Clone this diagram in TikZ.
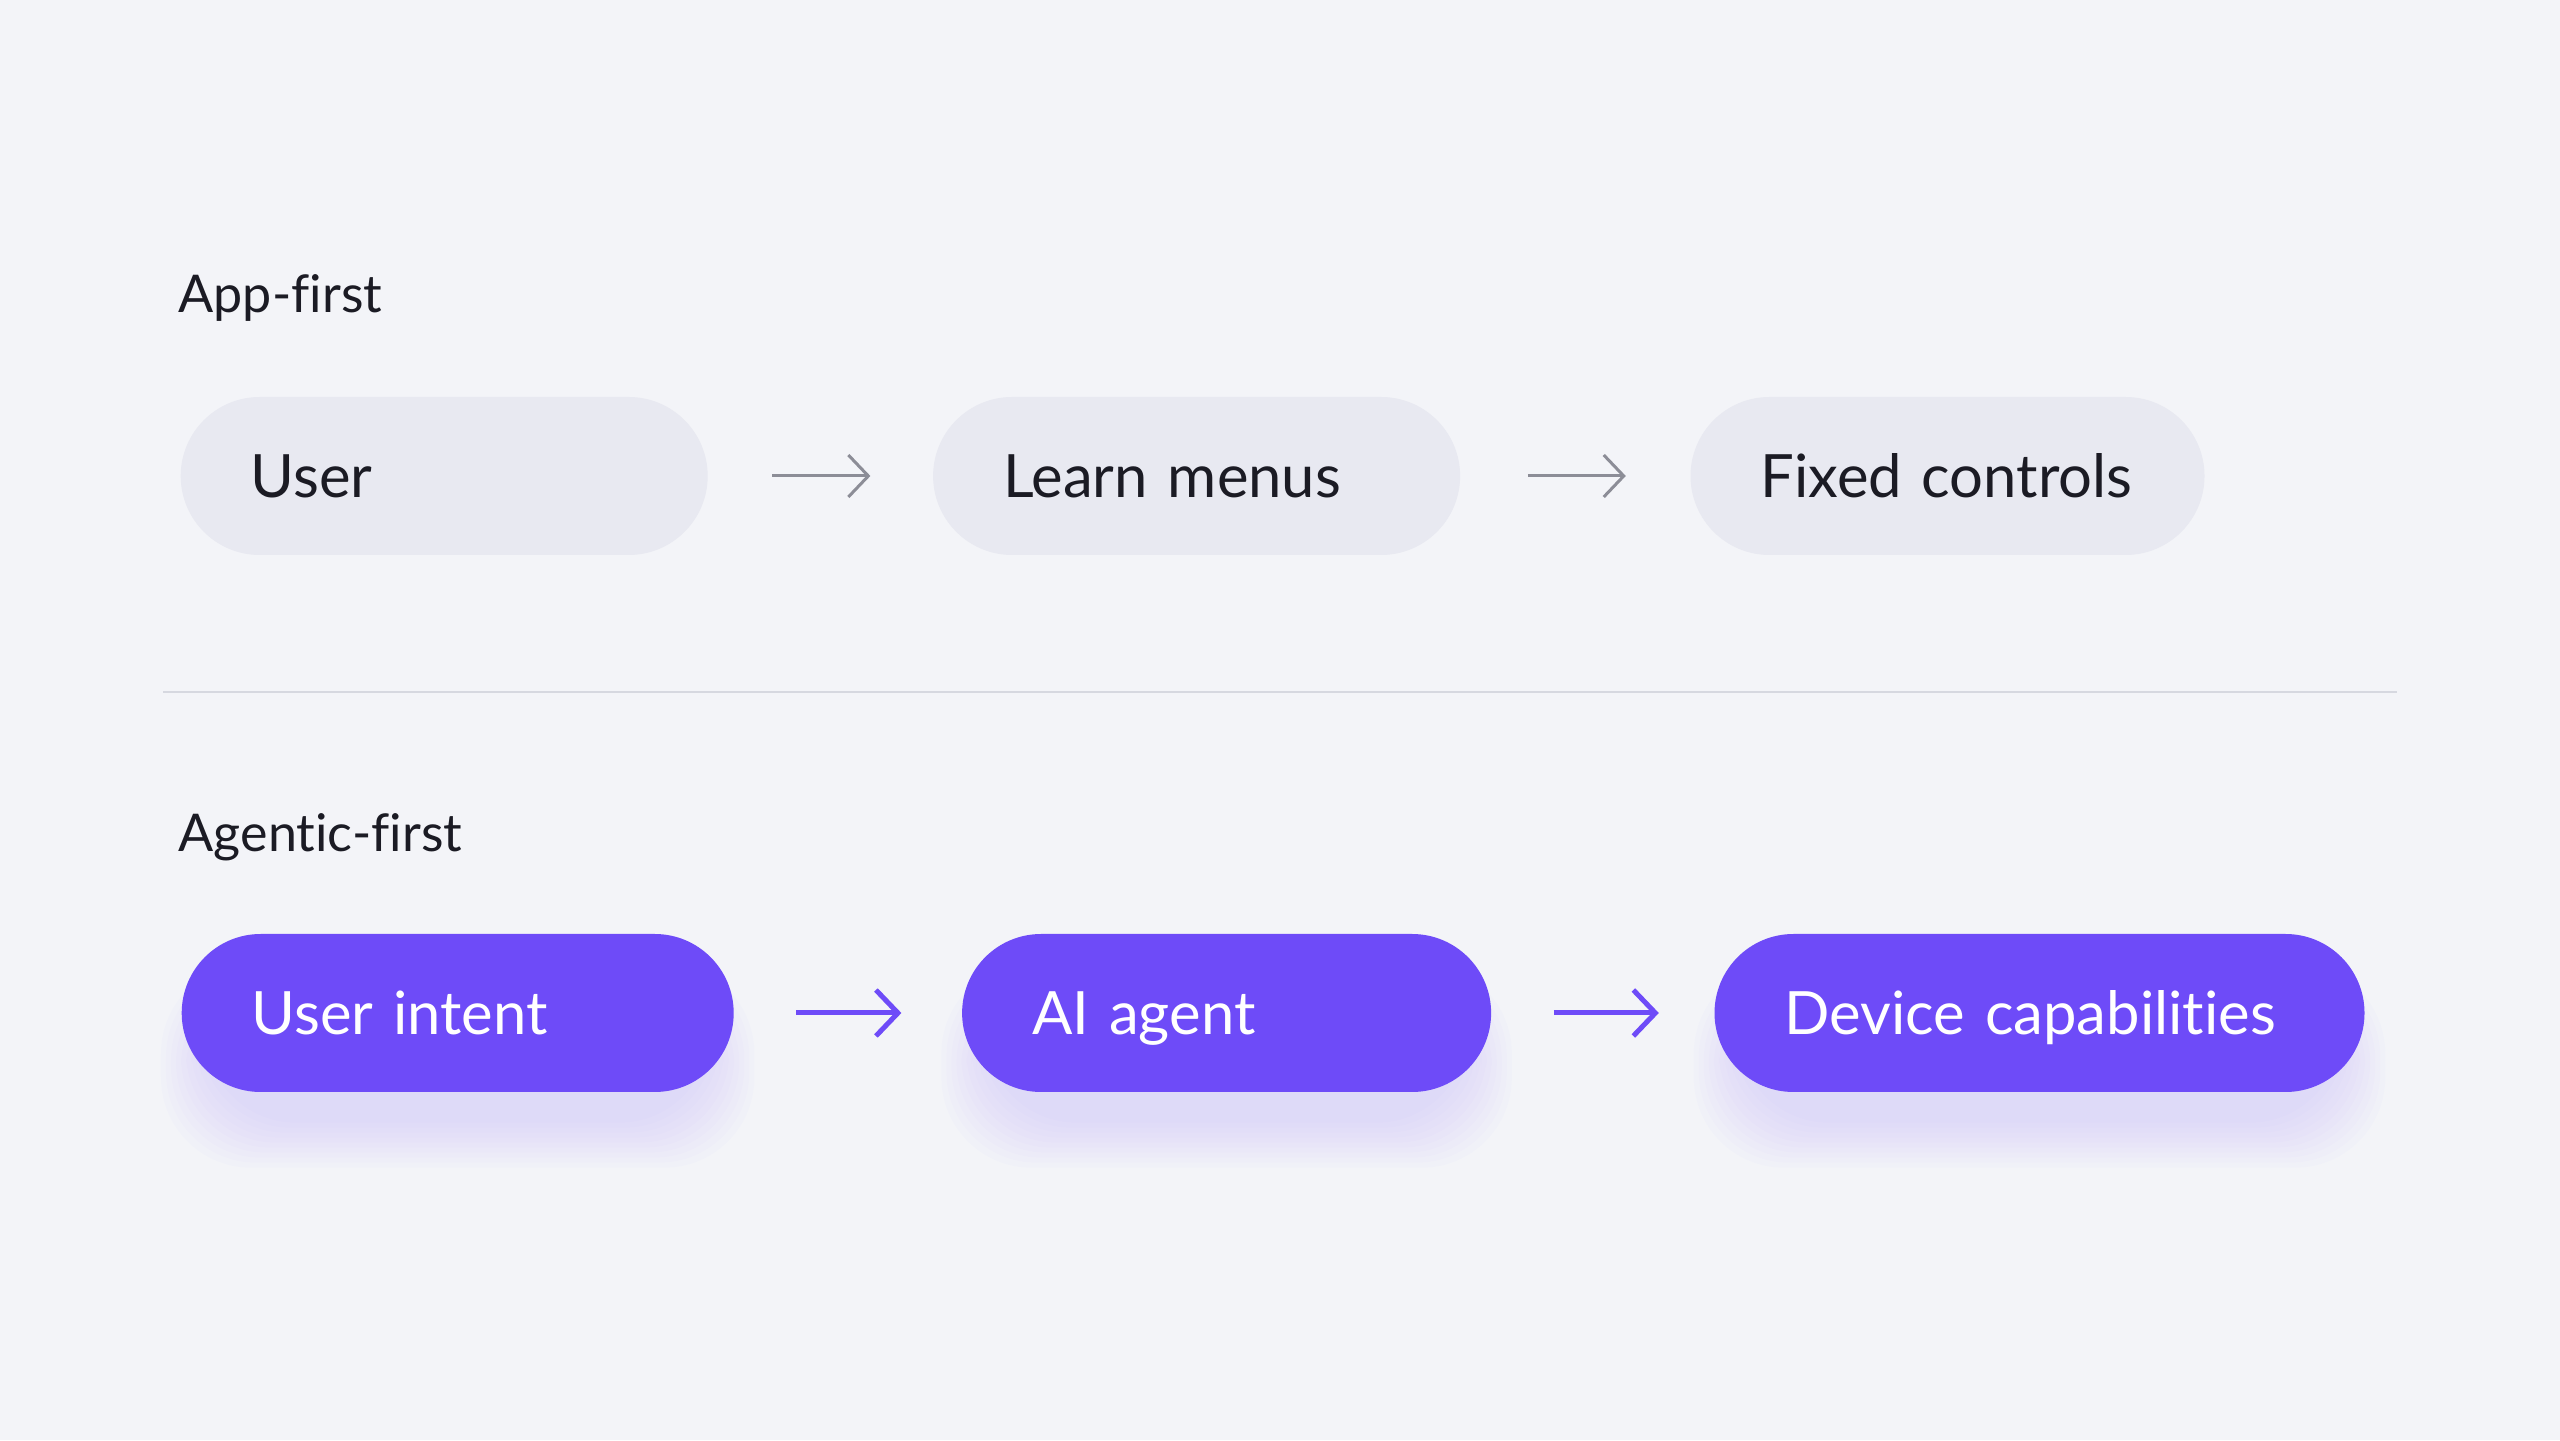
\documentclass[tikz,border=0pt]{standalone}
\usepackage{fontspec}
\setmainfont{Lato}[Ligatures=NoCommon]
\usetikzlibrary{positioning,arrows.meta,backgrounds}

\definecolor{bgpage}{HTML}{F3F4F8}
\definecolor{pillgray}{HTML}{E8E9F1}
\definecolor{inkdark}{HTML}{1B1B24}
\definecolor{agentpurple}{HTML}{6E4BF8}
\definecolor{glowpurple}{HTML}{8C7CFF}
\definecolor{arrowgray}{HTML}{8C8D97}
\definecolor{rulegray}{HTML}{D6D8E0}

\begin{document}
\begin{tikzpicture}[
        pilltext/.style={font=\fontsize{17}{21}\selectfont},
        headtext/.style={font=\fontsize{14.8}{18}\selectfont, text=inkdark, inner sep=0pt},
        appbox/.style={pilltext, fill=pillgray, text=inkdark, minimum height=1.58cm,
            rounded corners=0.79cm, inner xsep=0.7cm, inner ysep=0pt, align=left,
            text width=#1, text height=0.44cm, text depth=0cm,
            execute at begin node={\hbox\bgroup}, execute at end node={\egroup}},
        agentbox/.style={appbox=#1, fill=agentpurple, text=white},
        apparrow/.style={draw=arrowgray, line width=0.03cm,
            -{Straight Barb[length=0.2cm, width=0.42cm]}},
        agentarrow/.style={draw=agentpurple, line width=0.05cm,
            -{Straight Barb[length=0.22cm, width=0.46cm]}},
    ]
    \useasboundingbox (0,0) rectangle (25.6,14.4);

    % app-first row
    \node[headtext, anchor=base west] (apphead) at (1.78,11.27) {App-first};
    \node[appbox=3.87cm, anchor=west] (user) at (1.80,9.64) {User};
    \node[appbox=3.87cm, right=2.24cm of user] (menus) {Learn menus};
    \node[appbox=3.74cm, right=2.29cm of menus] (fixed) {Fixed controls};

    \draw[apparrow, shorten <=0.64cm, shorten >=0.62cm] (user) -- (menus);
    \draw[apparrow, shorten <=0.67cm, shorten >=0.64cm] (menus) -- (fixed);

    % divider
    \draw[rulegray, line width=0.02cm] (1.63,7.48) -- (23.97,7.48);

    % agentic-first row
    \node[headtext, anchor=base west] (agenthead) at (1.78,5.88) {Agentic-first};
    \node[agentbox=4.12cm, anchor=west] (intent) at (1.81,4.27) {User intent};
    \node[agentbox=3.89cm, right=2.27cm of intent] (agent) {AI agent};
    \node[agentbox=5.10cm, right=2.22cm of agent] (device) {Device capabilities};

    \draw[agentarrow, shorten <=0.62cm, shorten >=0.6cm] (intent) -- (agent);
    \draw[agentarrow, shorten <=0.62cm, shorten >=0.55cm] (agent) -- (device);

    % page colour and soft glow under the purple pills
    \begin{scope}[on background layer]
        \fill[bgpage] (0,0) rectangle (25.6,14.4);
        \foreach \n in {intent,agent,device}
            \foreach \k in {1,...,10}
                \fill[glowpurple, opacity=0.02, rounded corners=0.9cm]
                    ([xshift=0.3cm-\k*0.05cm, yshift=-0.25cm-\k*0.05cm]\n.south west)
                    rectangle ([xshift=-0.3cm+\k*0.05cm, yshift=-0.6cm+\k*0.03cm]\n.north east);
    \end{scope}
\end{tikzpicture}
\end{document}
